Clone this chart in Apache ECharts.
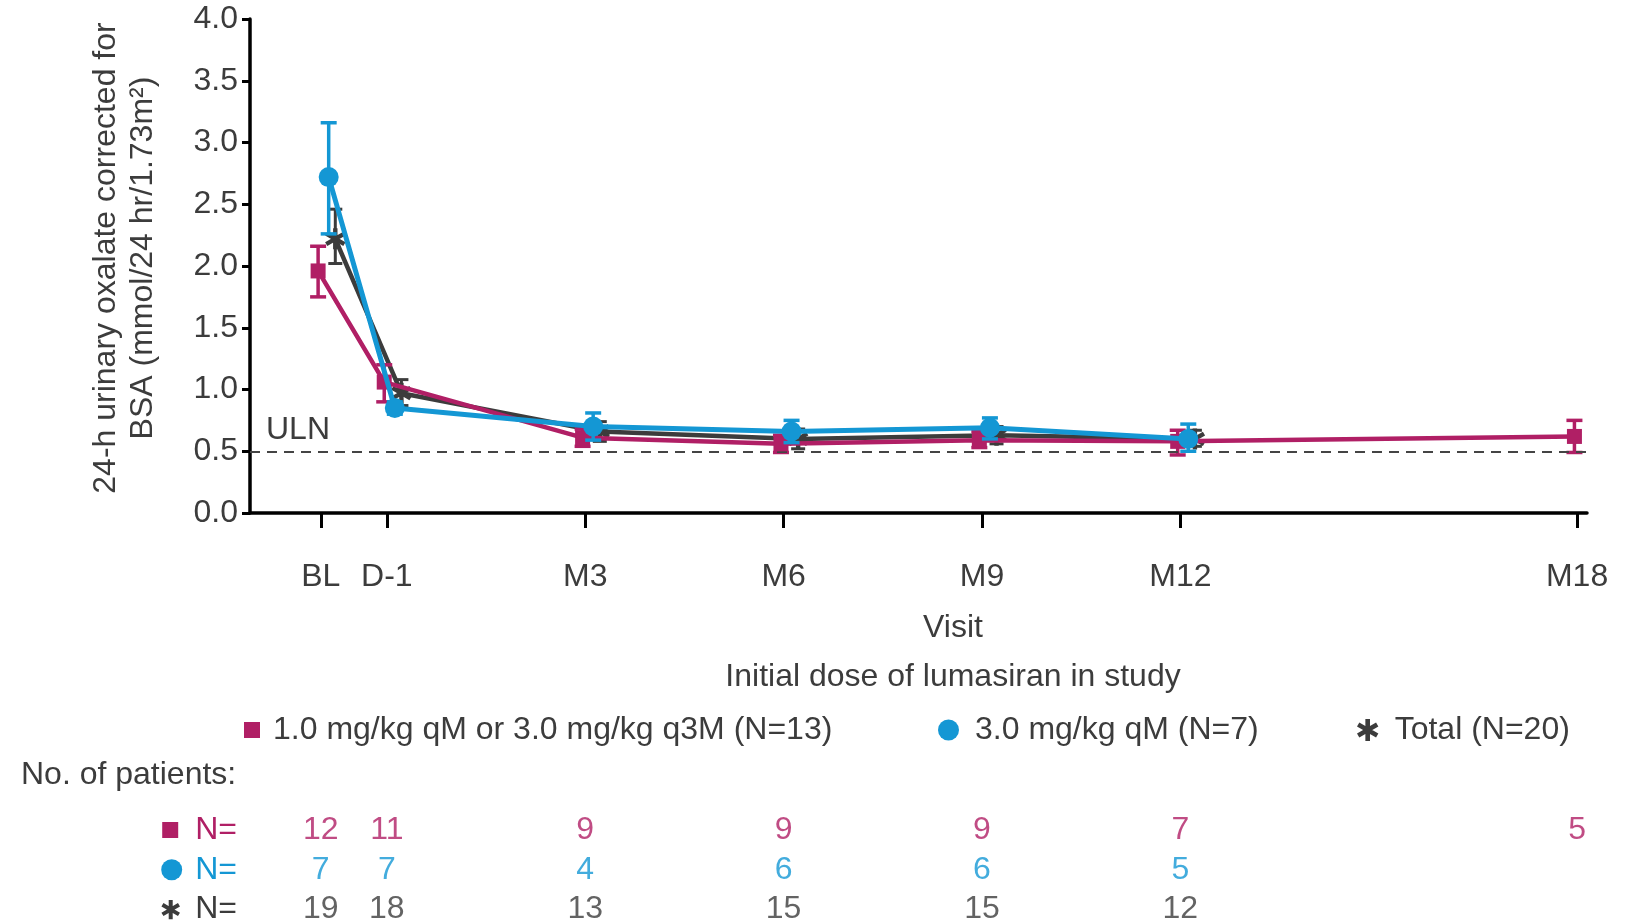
<!DOCTYPE html>
<html lang="en">
<head>
<meta charset="UTF-8">
<title>24-h urinary oxalate by visit</title>
<script src="https://cdn.jsdelivr.net/npm/echarts@6/dist/echarts.min.js"></script>
<style>
    html, body { margin: 0; padding: 0; background: #fff; }
    #chart { width: 1635px; height: 923px; }
</style>
</head>
<body>
<div id="chart"></div>
<script>
    // visits (x position in months)
    var visitNames = ['BL', 'D-1', 'M3', 'M6', 'M9', 'M12', 'M18'];
    var visitMonths = [-1, 0, 3, 6, 9, 12, 18];
    var ulnValue = 0.5;

    // 1.0 mg/kg qM or 3.0 mg/kg q3M
    var lowName = '1.0 mg/kg qM or 3.0 mg/kg q3M (N=13)';
    var lowMean = [1.96, 1.06, 0.61, 0.56, 0.59, 0.58, 0.62];
    var lowLower = [1.75, 0.90, 0.54, 0.49, 0.53, 0.47, 0.49];
    var lowUpper = [2.16, 1.20, 0.68, 0.63, 0.66, 0.67, 0.75];
    var lowN = [12, 11, 9, 9, 9, 7, 5];

    // 3.0 mg/kg qM
    var highName = '3.0 mg/kg qM (N=7)';
    var highMean = [2.72, 0.85, 0.70, 0.66, 0.69, 0.60];
    var highLower = [2.26, 0.80, 0.59, 0.57, 0.60, 0.50];
    var highUpper = [3.16, 0.90, 0.81, 0.75, 0.77, 0.72];
    var highN = [7, 7, 4, 6, 6, 5];

    // Total
    var totalName = 'Total (N=20)';
    var totalMean = [2.22, 0.97, 0.66, 0.60, 0.63, 0.60];
    var totalLower = [2.02, 0.87, 0.58, 0.52, 0.56, 0.54];
    var totalUpper = [2.46, 1.08, 0.74, 0.68, 0.70, 0.67];
    var totalN = [19, 18, 13, 15, 15, 12];

    // rows of the patient-count table
    var tableRows = [0, 1, 2];

    var MAGENTA = '#b01f65';
    var BLUE = '#1497d4';
    var DARK = '#3c3c3c';
    var TXT = '#3c3c3c';
    var FONT = '"Liberation Sans", Arial, Helvetica, sans-serif';
    var FS = 32;

    // six-armed asterisk as a path
    function starPath() {
        var L = 10, W = 2.1, s = '';
        [90, 30, 150].forEach(function (a) {
            var r = a * Math.PI / 180;
            var dx = Math.cos(r), dy = -Math.sin(r);
            var nx = -dy, ny = dx;
            var p = [
                [dx * L + nx * W, dy * L + ny * W],
                [-dx * L + nx * W, -dy * L + ny * W],
                [-dx * L - nx * W, -dy * L - ny * W],
                [dx * L - nx * W, dy * L - ny * W]
            ];
            s += 'M' + p.map(function (q) { return q[0].toFixed(2) + ' ' + q[1].toFixed(2); }).join(' L') + ' Z ';
        });
        return s;
    }
    var STAR = 'path://' + starPath();
    var starSvg = 'data:image/svg+xml;charset=utf-8,' + encodeURIComponent(
        '<svg xmlns="http://www.w3.org/2000/svg" width="22" height="22" viewBox="-11 -11 22 22"><path fill="' + DARK + '" d="' + starPath() + '"/></svg>');

    function points(mean, shift) {
        return mean.map(function (v, i) { return [visitMonths[i] + shift, v]; });
    }
    function bars(lower, upper, shift) {
        return lower.map(function (v, i) { return [visitMonths[i] + shift, v, upper[i]]; });
    }
    function errorBar(capW, lineW, color) {
        return function (params, api) {
            var x = api.value(0);
            var lo = api.coord([x, api.value(1)]);
            var hi = api.coord([x, api.value(2)]);
            var h = capW / 2;
            var st = { stroke: color, lineWidth: lineW };
            return {
                type: 'group',
                children: [
                    { type: 'line', shape: { x1: lo[0], y1: lo[1], x2: hi[0], y2: hi[1] }, style: st },
                    { type: 'line', shape: { x1: lo[0] - h, y1: lo[1], x2: lo[0] + h, y2: lo[1] }, style: st },
                    { type: 'line', shape: { x1: hi[0] - h, y1: hi[1], x2: hi[0] + h, y2: hi[1] }, style: st }
                ]
            };
        };
    }
    function countSeries(n, row, color) {
        return {
            type: 'scatter', xAxisIndex: 1, yAxisIndex: 1, silent: true,
            symbolSize: 1, itemStyle: { color: 'transparent' },
            data: n.map(function (v, i) { return [visitMonths[i], row, v]; }),
            label: {
                show: true, position: 'inside', color: color,
                fontFamily: FONT, fontSize: FS,
                formatter: function (p) { return p.value[2]; }
            }
        };
    }
    function legendText(pad) {
        return { color: TXT, fontFamily: FONT, fontSize: FS, padding: [0, 0, 0, pad] };
    }

    var shiftLow = -0.04, shiftHigh = 0.12, shiftTotal = 0.22;
    var xMin = -2.07, xMax = 18.15;

    var chart = echarts.init(document.getElementById('chart'));
    var plainTitle = { color: TXT, fontFamily: FONT, fontSize: FS, fontWeight: 'normal' };

    var option = {
        animation: false,
        textStyle: { fontFamily: FONT },
        title: [
            { text: 'Visit', left: 948, top: 607, textAlign: 'center', textStyle: plainTitle },
            { text: 'Initial dose of lumasiran in study', left: 948, top: 656, textAlign: 'center', textStyle: plainTitle },
            { text: 'No. of patients:', left: 16, top: 754, textStyle: plainTitle }
        ],
        legend: [
            { left: 239, top: 709, itemWidth: 16, itemHeight: 16, selectedMode: false,
              data: [{ name: lowName, icon: 'rect' }], textStyle: legendText(8) },
            { left: 933, top: 709, itemWidth: 21, itemHeight: 21, selectedMode: false,
              data: [{ name: highName, icon: 'circle' }], textStyle: legendText(11) },
            { left: 1352, top: 709, itemWidth: 22, itemHeight: 22, selectedMode: false,
              data: [{ name: totalName, icon: STAR }], textStyle: legendText(11) }
        ],
        grid: [
            { left: 250, right: 48, top: 19, bottom: 410, outerBoundsMode: 'none' },
            { left: 250, right: 48, top: 800, bottom: 0, outerBoundsMode: 'none' }
        ],
        xAxis: [
            {
                type: 'value', min: xMin, max: xMax, gridIndex: 0,
                splitLine: { show: false },
                axisLine: { onZero: false, lineStyle: { color: '#000', width: 3.5 } },
                axisTick: { customValues: visitMonths, length: 15, lineStyle: { color: '#000', width: 3 } },
                axisLabel: {
                    customValues: visitMonths, margin: 48, color: TXT, fontFamily: FONT, fontSize: FS,
                    formatter: function (v) {
                        var i = visitMonths.indexOf(v);
                        return i >= 0 ? visitNames[i] : '';
                    }
                }
            },
            { type: 'value', min: xMin, max: xMax, gridIndex: 1, show: false }
        ],
        yAxis: [
            {
                type: 'value', min: 0, max: 4, interval: 0.5, gridIndex: 0,
                name: '24-h urinary oxalate corrected for\nBSA (mmol/24 hr/1.73m\u00b2)',
                nameLocation: 'middle', nameGap: 88,
                nameTextStyle: { color: TXT, fontFamily: FONT, fontSize: FS, lineHeight: 37, align: 'center',
                    padding: [0, 0, 0, 16] },
                splitLine: { show: false },
                axisLine: { show: true, onZero: false, lineStyle: { color: '#000', width: 3.5 } },
                axisTick: { show: true, length: 8, lineStyle: { color: '#000', width: 3 } },
                axisLabel: { margin: 12, color: TXT, fontFamily: FONT, fontSize: FS,
                    formatter: function (v) { return v.toFixed(1); } }
            },
            {
                type: 'value', gridIndex: 1, inverse: true, min: -0.754, max: 2.337,
                axisLine: { show: false }, axisTick: { show: false }, splitLine: { show: false },
                axisLabel: {
                    customValues: tableRows, margin: 13, fontFamily: FONT, fontSize: FS,
                    formatter: function (v) {
                        if (v === 0) return '{sq|}{lo|N=}';
                        if (v === 1) return '{ci|}{hi|N=}';
                        return '{st|}{to|N=}';
                    },
                    rich: {
                        sq: { width: 16, height: 16, backgroundColor: MAGENTA },
                        ci: { width: 21, height: 21, borderRadius: 10.5, backgroundColor: BLUE },
                        st: { width: 21, height: 21, backgroundColor: { image: starSvg } },
                        lo: { color: MAGENTA, fontSize: FS, fontFamily: FONT, padding: [0, 0, 0, 17] },
                        hi: { color: BLUE, fontSize: FS, fontFamily: FONT, padding: [0, 0, 0, 13] },
                        to: { color: DARK, fontSize: FS, fontFamily: FONT, padding: [0, 0, 0, 14] }
                    }
                }
            }
        ],
        series: [
            {
                name: totalName + ' err', type: 'custom', z: 2, silent: true,
                renderItem: errorBar(14, 3, DARK), encode: { x: 0, y: [1, 2] },
                data: bars(totalLower, totalUpper, shiftTotal)
            },
            {
                name: totalName, type: 'line', z: 3,
                data: points(totalMean, shiftTotal),
                symbol: STAR, symbolSize: 21, symbolKeepAspect: true,
                itemStyle: { color: DARK }, lineStyle: { color: DARK, width: 4.5 },
                markLine: {
                    silent: true, symbol: 'none',
                    lineStyle: { color: '#444', width: 2, type: [10, 7] },
                    label: { show: true, position: 'insideStartTop', formatter: 'ULN', distance: [16, 5],
                        color: TXT, fontFamily: FONT, fontSize: FS },
                    data: [{ yAxis: ulnValue }]
                }
            },
            {
                name: lowName + ' err', type: 'custom', z: 4, silent: true,
                renderItem: errorBar(16, 3.5, MAGENTA), encode: { x: 0, y: [1, 2] },
                data: bars(lowLower, lowUpper, shiftLow)
            },
            {
                name: lowName, type: 'line', z: 5,
                data: points(lowMean, shiftLow),
                symbol: 'rect', symbolSize: 15,
                itemStyle: { color: MAGENTA }, lineStyle: { color: MAGENTA, width: 4.5 }
            },
            {
                name: highName + ' err', type: 'custom', z: 6, silent: true,
                renderItem: errorBar(16, 3.5, BLUE), encode: { x: 0, y: [1, 2] },
                data: bars(highLower, highUpper, shiftHigh)
            },
            {
                name: highName, type: 'line', z: 7,
                data: points(highMean, shiftHigh),
                symbol: 'circle', symbolSize: 20,
                itemStyle: { color: BLUE }, lineStyle: { color: BLUE, width: 5 }
            },
            countSeries(lowN, 0, MAGENTA),
            countSeries(highN, 1, BLUE),
            countSeries(totalN, 2, DARK)
        ]
    };
    chart.setOption(option);
</script>
</body>
</html>
